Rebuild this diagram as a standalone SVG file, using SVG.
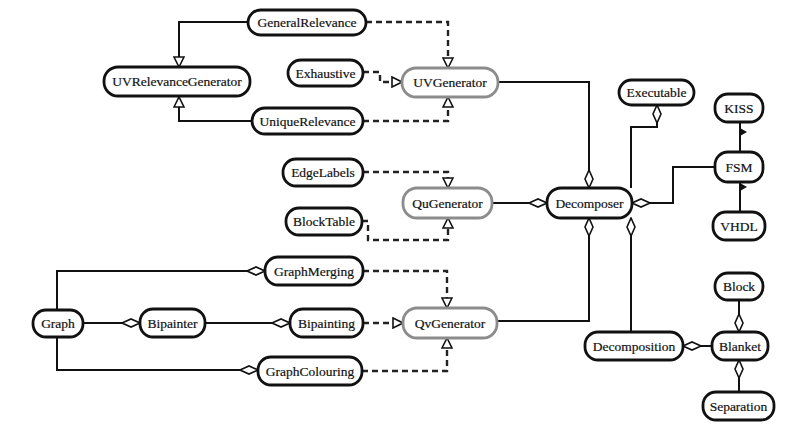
<svg xmlns="http://www.w3.org/2000/svg" width="795" height="429" viewBox="0 0 795 429">
  <style>
    .node rect { fill: #fff; stroke: #111; stroke-width: 2.8; }
    .node.gen rect { stroke: #8c8c8c; }
    .node text { font-family: "Liberation Serif", "Times New Roman", serif; font-size: 13.5px; fill: #111; stroke: #111; stroke-width: 0.2; text-anchor: middle; }
    .edges path { fill: none; stroke: #111; stroke-width: 2; }
    .edges path.real { stroke: #222; stroke-width: 2.4; stroke-dasharray: 6 4; }
    .edges path.gen { marker-end: url(#tri); }
    .edges path.agg { marker-end: url(#dia); }
  </style>
  <defs>
    <marker id="tri" viewBox="-1 -1 12 12" refX="10" refY="5" markerWidth="12" markerHeight="12" markerUnits="userSpaceOnUse" orient="auto">
      <path d="M0,0 L10,5 L0,10 Z" fill="#fff" stroke="#111" stroke-width="1.6"/>
    </marker>
    <marker id="dia" viewBox="-1 -1 20 10" refX="18" refY="4" markerWidth="20" markerHeight="10" markerUnits="userSpaceOnUse" orient="auto">
      <path d="M0,4 L9,0 L18,4 L9,8 Z" fill="#fff" stroke="#111" stroke-width="1.6"/>
    </marker>
  </defs>

  <g class="edges">
    <!-- generalisations -->
    <path class="gen" d="M248,22 H179 V67"/>
    <path class="gen" d="M252,121 H179 V97"/>
    <!-- realisations -->
    <path class="real gen" d="M366,22 H448 V68"/>
    <path class="real gen" d="M363,72 H380 V82 H402"/>
    <path class="real gen" d="M363,121 H448 V97"/>
    <path class="real gen" d="M363,172 H448 V188"/>
    <path class="real gen" d="M362,221 H368 V240 H448 V218"/>
    <path class="real gen" d="M363,271 H447 V308"/>
    <path class="real gen" d="M363,323 H403"/>
    <path class="real gen" d="M362,371 H447 V338"/>
    <!-- aggregations -->
    <path class="agg" d="M498,82 H589 V188"/>
    <path class="agg" d="M492,203 H547"/>
    <path class="agg" d="M497,321 H589 V218"/>
    <path class="agg" d="M631,188 V127 H657 V105"/>
    <path class="agg" d="M715,167 H673 V203 H632"/>
    <path class="agg" d="M631,332 V218"/>
    <path class="agg" d="M712,346 H683"/>
    <path class="agg" d="M739,300 V332"/>
    <path class="agg" d="M739,392 V360"/>
    <path class="agg" d="M57,310 V271 H265"/>
    <path class="agg" d="M83,323 H140"/>
    <path class="agg" d="M205,323 H290"/>
    <path class="agg" d="M57,337 V370 H258"/>
    <!-- associations -->
    <path d="M740,122 V152"/>
    <path d="M740,182 V212"/>
    <polygon points="740,128 747,132 740,136" fill="#111"/>
    <polygon points="740,183 747,187 740,191" fill="#111"/>
  </g>

  <g id="GeneralRelevance" class="node"><rect x="248" y="10" width="118" height="25" rx="12.5"/><text x="307" y="27">GeneralRelevance</text></g>
  <g id="UVRelevanceGenerator" class="node"><rect x="104" y="67" width="146" height="29" rx="14"/><text x="177" y="86">UVRelevanceGenerator</text></g>
  <g id="Exhaustive" class="node"><rect x="288" y="60" width="75" height="26" rx="13"/><text x="325.5" y="77.5">Exhaustive</text></g>
  <g id="UVGenerator" class="node gen"><rect x="402" y="68" width="96" height="29" rx="14"/><text x="450" y="87">UVGenerator</text></g>
  <g id="UniqueRelevance" class="node"><rect x="252" y="108" width="111" height="26" rx="13"/><text x="307.5" y="125.5">UniqueRelevance</text></g>

  <g id="EdgeLabels" class="node"><rect x="283" y="159" width="80" height="27" rx="13"/><text x="323" y="177">EdgeLabels</text></g>
  <g id="BlockTable" class="node"><rect x="286" y="208" width="76" height="27" rx="13"/><text x="324" y="226">BlockTable</text></g>
  <g id="QuGenerator" class="node gen"><rect x="403" y="188" width="89" height="30" rx="14"/><text x="447.5" y="207.5">QuGenerator</text></g>
  <g id="Decomposer" class="node"><rect x="547" y="188" width="85" height="30" rx="14"/><text x="589.5" y="207.5">Decomposer</text></g>

  <g id="Executable" class="node"><rect x="619" y="80" width="75" height="25" rx="12.5"/><text x="656.5" y="97">Executable</text></g>
  <g id="KISS" class="node"><rect x="715" y="94" width="48" height="28" rx="13"/><text x="739" y="112.5">KISS</text></g>
  <g id="FSM" class="node"><rect x="715" y="152" width="48" height="30" rx="13"/><text x="739" y="171.5">FSM</text></g>
  <g id="VHDL" class="node"><rect x="713" y="212" width="52" height="28" rx="13"/><text x="739" y="230.5">VHDL</text></g>

  <g id="GraphMerging" class="node"><rect x="265" y="257" width="98" height="28" rx="13"/><text x="314" y="275.5">GraphMerging</text></g>
  <g id="Graph" class="node"><rect x="33" y="310" width="50" height="27" rx="13"/><text x="58" y="328">Graph</text></g>
  <g id="Bipainter" class="node"><rect x="140" y="309" width="65" height="28" rx="13"/><text x="172.5" y="327.5">Bipainter</text></g>
  <g id="Bipainting" class="node"><rect x="290" y="309" width="73" height="28" rx="13"/><text x="326.5" y="327.5">Bipainting</text></g>
  <g id="QvGenerator" class="node gen"><rect x="403" y="308" width="94" height="30" rx="14"/><text x="450" y="327.5">QvGenerator</text></g>
  <g id="GraphColouring" class="node"><rect x="258" y="357" width="104" height="28" rx="13"/><text x="310" y="375.5">GraphColouring</text></g>

  <g id="Block" class="node"><rect x="715" y="273" width="48" height="27" rx="13"/><text x="739" y="291">Block</text></g>
  <g id="Decomposition" class="node"><rect x="585" y="332" width="98" height="28" rx="13"/><text x="634" y="350.5">Decomposition</text></g>
  <g id="Blanket" class="node"><rect x="712" y="332" width="56" height="28" rx="13"/><text x="740" y="350.5">Blanket</text></g>
  <g id="Separation" class="node"><rect x="703" y="392" width="71" height="28" rx="13"/><text x="738.5" y="410.5">Separation</text></g>
</svg>
